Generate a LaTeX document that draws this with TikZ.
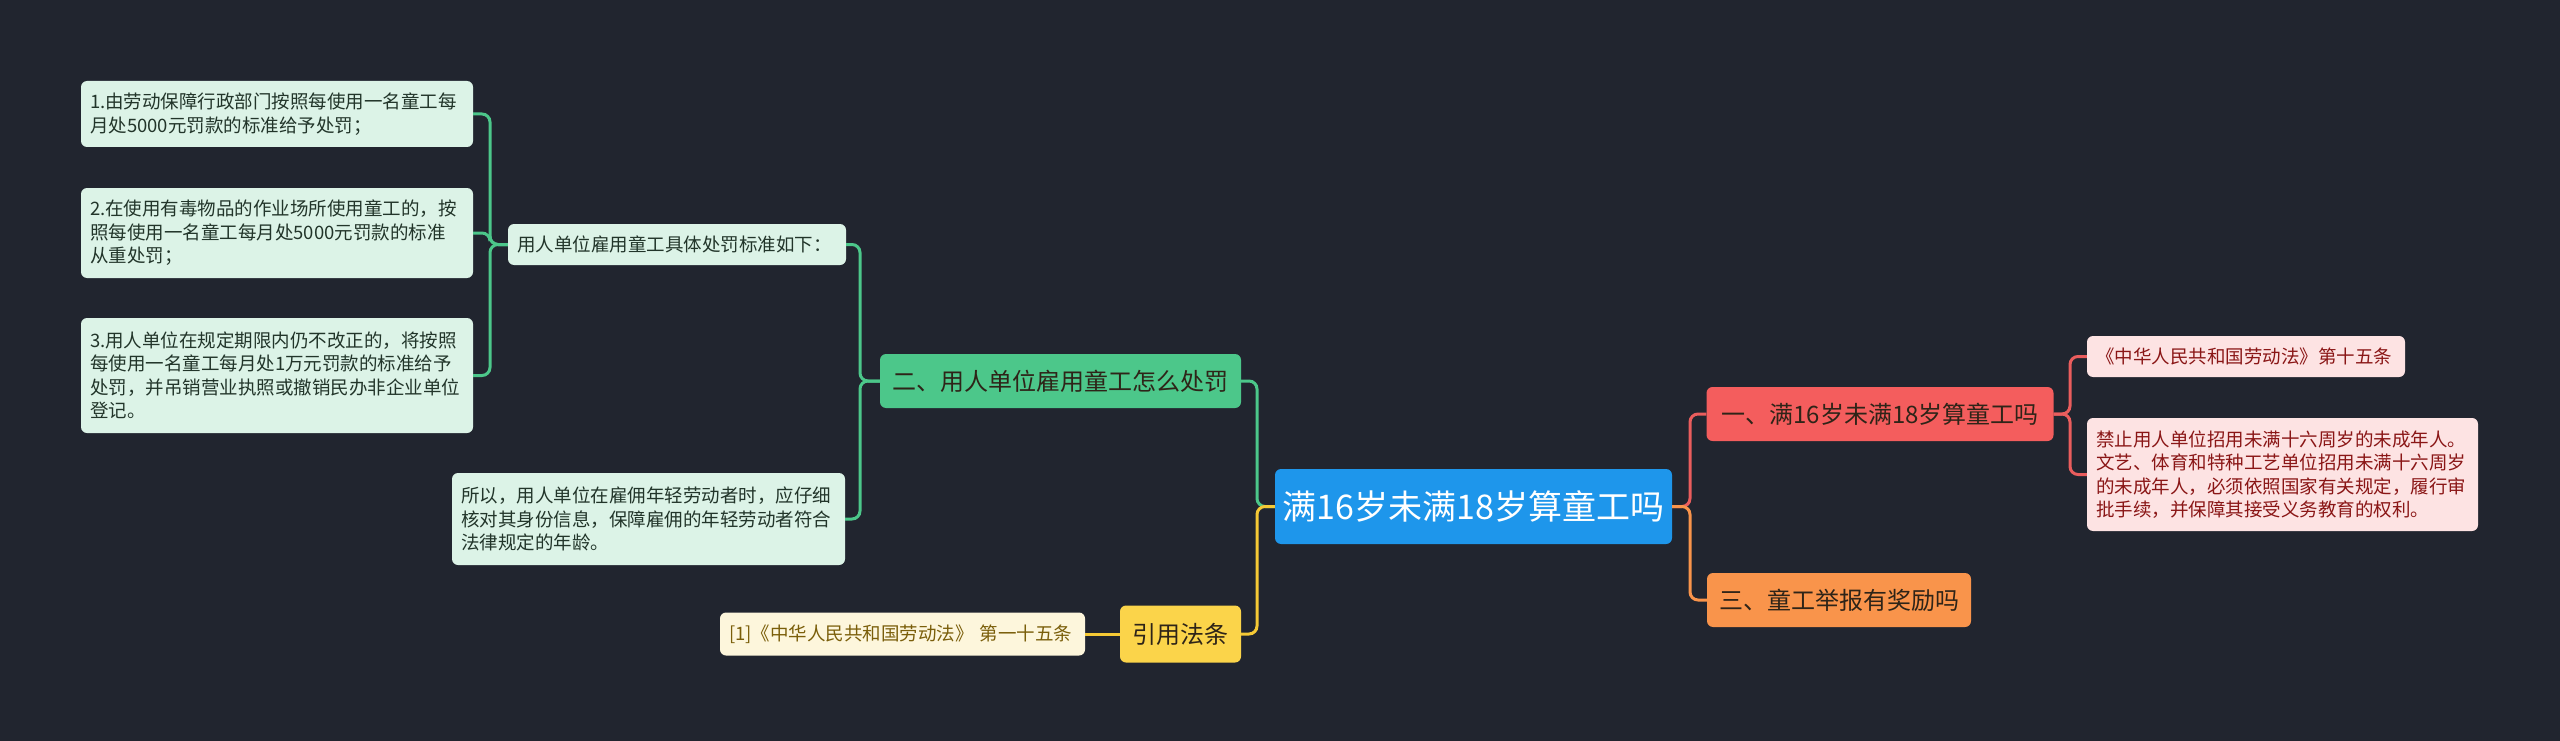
\documentclass[tikz,border=0pt]{standalone}
\usepackage{fontspec}
\setmainfont{Noto Sans CJK SC}
\definecolor{bg}{HTML}{21252F}
\definecolor{cblue}{HTML}{1E96EB}
\definecolor{gnode}{HTML}{4CC78A}
\definecolor{gleaf}{HTML}{DCF3E7}
\definecolor{gtext}{HTML}{22352A}
\definecolor{rnode}{HTML}{F45D5D}
\definecolor{rleaf}{HTML}{FDE3E3}
\definecolor{rtext}{HTML}{8A1616}
\definecolor{rline}{HTML}{EA5D5D}
\definecolor{onode}{HTML}{F9944B}
\definecolor{ynode}{HTML}{FBD44A}
\definecolor{yleaf}{HTML}{FDF6DC}
\definecolor{ytext}{HTML}{7A5E0A}
\definecolor{yline}{HTML}{F5C935}
\definecolor{dtext}{HTML}{2E2418}
\begin{document}
\begin{tikzpicture}[x=1pt,y=-1pt,
  base/.style={rounded corners=6pt, inner ysep=0pt},
  leaf/.style={base, align=left, inner xsep=9pt, font=\fontsize{18.5}{23.5}\selectfont},
  gleafbox/.style={leaf, fill=gleaf, text=gtext},
  rleafbox/.style={leaf, fill=rleaf, text=rtext},
  yleafbox/.style={leaf, fill=yleaf, text=ytext},
  branch/.style={base, inner xsep=0pt, align=center, font=\fontsize{24}{28}\selectfont, minimum height=54pt},
  conn/.style={line width=3pt, rounded corners=8pt},
]
\fill[bg] (0,0) rectangle (2560,741);
\useasboundingbox (0,0) rectangle (2560,741);

% center
\node[base, fill=cblue, text=white, font=\fontsize{34}{40}\selectfont, minimum width=397pt, minimum height=75pt] (c) at (1473.5,506.5) {满16岁未满18岁算童工吗};

% right side
\node[branch, fill=rnode, text=dtext, minimum width=347pt] (n1) at (1880,414) {一、满16岁未满18岁算童工吗};
\node[rleafbox, text width=300pt, minimum height=41pt] (l11) at (2246,356.5) {《中华人民共和国劳动法》第十五条};
\node[rleafbox, text width=373pt, minimum height=113pt] (l12) at (2282.5,474.5) {禁止用人单位招用未满十六周岁的未成年人。\\文艺、体育和特种工艺单位招用未满十六周岁\\的未成年人，必须依照国家有关规定，履行审\\批手续，并保障其接受义务教育的权利。};
\node[branch, fill=onode, text=dtext, minimum width=264pt] (n3) at (1839,600) {三、童工举报有奖励吗};

% left side
\node[branch, fill=gnode, text=dtext, minimum width=361pt] (n2) at (1060.5,381) {二、用人单位雇用童工怎么处罚};
\node[gleafbox, text width=320pt, minimum height=41pt] (g1) at (677,244.5) {用人单位雇用童工具体处罚标准如下：};
\node[gleafbox, text width=375pt, minimum height=92pt] (g2) at (648.5,519) {所以，用人单位在雇佣年轻劳动者时，应仔细\\核对其身份信息，保障雇佣的年轻劳动者符合\\法律规定的年龄。};
\node[gleafbox, text width=374pt, minimum height=66pt] (b1) at (277,114) {1.由劳动保障行政部门按照每使用一名童工每\\月处5000元罚款的标准给予处罚；};
\node[gleafbox, text width=374pt, minimum height=90pt] (b2) at (277,233) {2.在使用有毒物品的作业场所使用童工的，按\\照每使用一名童工每月处5000元罚款的标准\\从重处罚；};
\node[gleafbox, text width=374pt, minimum height=115pt] (b3) at (277,375.5) {3.用人单位在规定期限内仍不改正的，将按照\\每使用一名童工每月处1万元罚款的标准给予\\处罚，并吊销营业执照或撤销民办非企业单位\\登记。};

\node[branch, fill=ynode, text=dtext, minimum width=121pt, minimum height=57pt] (y) at (1180.5,634) {引用法条};
\node[yleafbox, text width=347pt, minimum height=43pt] (y1) at (902.5,634) {[1]《中华人民共和国劳动法》 第一十五条};

% fork coordinates
\coordinate (fl) at (1257,506.5);
\coordinate (fr) at (1690,506.5);
\coordinate (f1) at (2070,414);
\coordinate (f2) at (860,381);
\coordinate (fg) at (490,244.5);

% connectors
\draw[conn, gnode] (c.west) -- (fl) |- (n2.east);
\draw[conn, yline] (c.west) -- (fl) |- (y.east);
\draw[conn, yline] (y.west) -- (y1.east);
\draw[conn, rline] (c.east) -- (fr) |- (n1.west);
\draw[conn, onode] (c.east) -- (fr) |- (n3.west);
\draw[conn, rline] (n1.east) -- (f1) |- (l11.west);
\draw[conn, rline] (n1.east) -- (f1) |- (l12.west);
\draw[conn, gnode] (n2.west) -- (f2) |- (g1.east);
\draw[conn, gnode] (n2.west) -- (f2) |- (g2.east);
\draw[conn, gnode] (g1.west) -- (fg) |- (b1.east);
\draw[conn, gnode] (g1.west) -- (fg) |- (b2.east);
\draw[conn, gnode] (g1.west) -- (fg) |- (b3.east);
\end{tikzpicture}
\end{document}
